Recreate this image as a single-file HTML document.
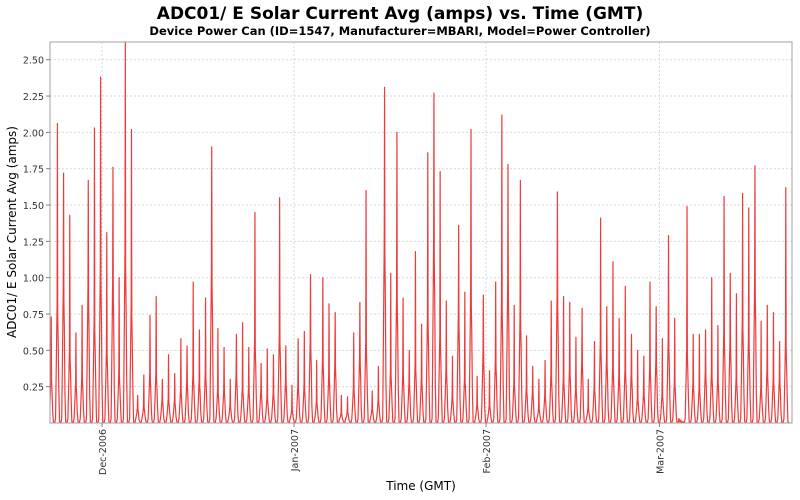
<!DOCTYPE html>
<html><head><meta charset="utf-8">
<style>
html,body{margin:0;padding:0;background:#fff;}
svg{display:block;font-family:"DejaVu Sans","Liberation Sans",sans-serif;}
</style></head>
<body>
<svg id="chart" width="800" height="500" viewBox="0 0 800 500" xmlns="http://www.w3.org/2000/svg">
<rect x="0" y="0" width="800" height="500" fill="#fff"/>
<text x="400" y="19" text-anchor="middle" font-size="17" font-weight="bold" fill="#000">ADC01/ E Solar Current Avg (amps) vs. Time (GMT)</text>
<text x="400" y="35" text-anchor="middle" font-size="11.5" font-weight="bold" fill="#000">Device Power Can (ID=1547, Manufacturer=MBARI, Model=Power Controller)</text>
<g id="grid"></g>
<g id="series"></g>
<rect x="50" y="42" width="742" height="381" fill="none" stroke="#a0a0a0" stroke-width="1"/>
<g id="axes"></g>
<text transform="translate(16,232) rotate(-90)" text-anchor="middle" font-size="12" fill="#000">ADC01/ E Solar Current Avg (amps)</text>
<text x="421" y="490" text-anchor="middle" font-size="12" fill="#000">Time (GMT)</text>
</svg>
<script>
// data
const yTicks = [0.25,0.5,0.75,1.0,1.25,1.5,1.75,2.0,2.25,2.5];
const yTickLabels = ["0.25","0.50","0.75","1.00","1.25","1.50","1.75","2.00","2.25","2.50"];
const monthTicks = [0,31,62,90]; // days since Dec 1 2006
const monthLabels = ["Dec-2006","Jan-2007","Feb-2007","Mar-2007"];
const firstPeakDay = -8.2;
const lastPeakDay = 110.4;
const dailyPeaks = [
0.73,2.06,1.72,1.43,0.62,0.81,1.67,2.03,2.38,1.31,1.76,1.00,2.62,2.02,0.19,0.33,0.74,0.87,0.30,0.47,0.34,0.58,0.53,0.97,0.64,0.86,1.90,0.65,0.52,0.30,0.61,
0.69,0.52,1.45,0.41,0.51,0.47,1.55,0.53,0.26,0.58,0.63,1.02,0.43,1.00,0.82,0.76,0.19,0.18,0.62,0.83,1.60,0.22,0.39,2.31,1.03,2.00,0.86,0.50,1.18,0.68,
1.86,2.27,1.73,0.84,0.46,1.36,0.90,2.02,0.32,0.88,0.36,0.97,2.12,1.78,0.81,1.67,0.60,0.39,0.30,0.43,0.84,1.59,0.87,0.83,0.59,0.79,0.30,0.56,1.41,0.80,
1.11,0.72,0.94,0.61,0.50,0.46,0.97,0.80,0.58,1.29,0.72,0.02,1.49,0.61,0.61,0.64,1.00,0.67,1.56,1.03,0.89,1.58,1.48,1.77,0.70,0.81,0.76,0.56,1.62
];
const secondary = [0.45,0.4,0.55,0.35];

const X0=50,X1=792,Y0=423,Y1=42;
const dayStart=-8.4, dayEnd=111.4, yMax=2.622;
function xs(d){return X0+(d-dayStart)/(dayEnd-dayStart)*(X1-X0);}
function ys(v){return Y0-v/yMax*(Y0-Y1);}
const NS="http://www.w3.org/2000/svg";
const grid=document.getElementById('grid'), axes=document.getElementById('axes'), series=document.getElementById('series');
function mk(tag,attrs,parent){const e=document.createElementNS(NS,tag);for(const k in attrs)e.setAttribute(k,attrs[k]);parent.appendChild(e);return e;}

yTicks.forEach((v,i)=>{
  const y=ys(v);
  const g=mk('line',{x1:X0,x2:X1,y1:y,y2:y,stroke:'#d8d8d8','stroke-width':1,'stroke-dasharray':'2,2'},grid);
  
  
  const t=mk('line',{x1:X0-4,x2:X0,y1:y,y2:y,stroke:'#808080'},axes);
  
  
  const l=mk('text',{x:X0-6,y:y+4,'text-anchor':'end','font-size':9.5,fill:'#333'},axes);
  l.textContent=yTickLabels[i];
  
  
});
monthTicks.forEach((d,i)=>{
  const x=xs(d);
  const g=mk('line',{x1:x,x2:x,y1:Y1,y2:Y0,stroke:'#d8d8d8','stroke-width':1,'stroke-dasharray':'2,2'},grid);
  
  
  const t=mk('line',{x1:x,x2:x,y1:Y0,y2:Y0+4,stroke:'#808080'},axes);
  
  
  const l=mk('text',{transform:`translate(${x+4},${Y0+6}) rotate(-90)`,'text-anchor':'end','font-size':9.5,fill:'#333'},axes);
  l.textContent=monthLabels[i];
  
  
});

const n=dailyPeaks.length;
const step=(lastPeakDay-firstPeakDay)/(n-1);
let pts=[];
dailyPeaks.forEach((p,i)=>{
  const t=firstPeakDay+i*step;
  const s=secondary[i%secondary.length];
  pts.push([t-0.45,0],[t-0.3,0.03],[t-0.15,p*s*0.6],[t-0.05,p*s],[t,p],[t+0.05,p*s*0.9],[t+0.12,p*s*0.7],[t+0.22,p*0.12],[t+0.34,0.01],[t+0.5,0]);
});
const d=pts.map((q,i)=>(i?'L':'M')+xs(q[0]).toFixed(2)+','+ys(q[1]).toFixed(2)).join('');
const path=mk('path',{d:d,fill:'none',stroke:'#ee3a3a','stroke-width':1.2,'stroke-linejoin':'round'},series);


const cp=mk('clipPath',{id:'clip'},document.getElementById('chart'));
mk('rect',{x:X0,y:Y1,width:X1-X0,height:Y0-Y1},cp);
series.setAttribute('clip-path','url(#clip)');
</script>
</body></html>
